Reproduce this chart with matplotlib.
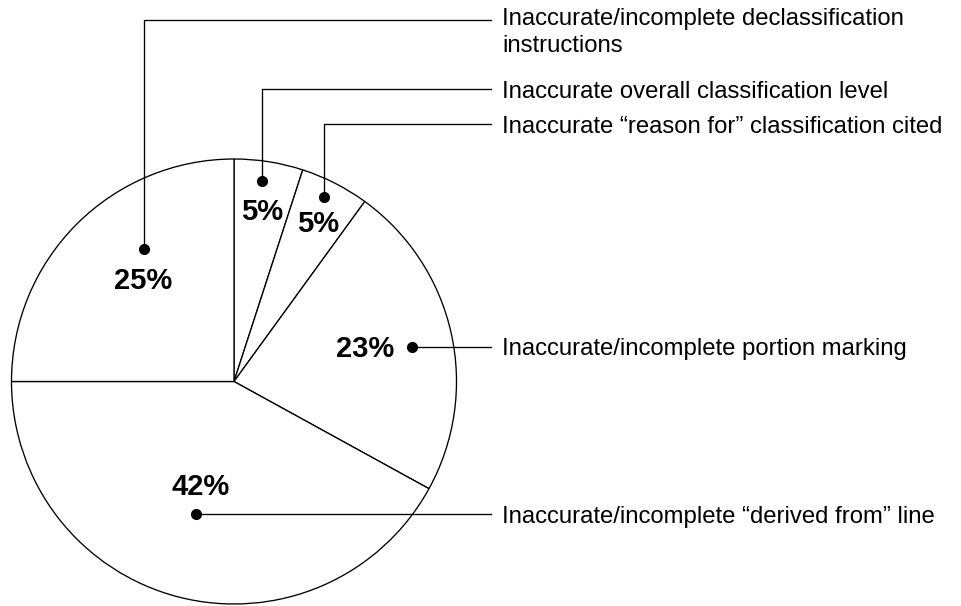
import numpy as np
import matplotlib
matplotlib.use("Agg")
import matplotlib.pyplot as plt

# slice data, clockwise from 12 o'clock
labels = [
    "Inaccurate overall classification level",
    "Inaccurate \u201creason for\u201d classification cited",
    "Inaccurate/incomplete portion marking",
    "Inaccurate/incomplete \u201cderived from\u201d line",
    "Inaccurate/incomplete declassification\ninstructions",
]
shares = [5, 5, 23, 42, 25]

W, H = 962, 606
center = (234, H - 381.5)
radius = 222.5

# leader layout per slice: dot radius fraction, angle shift, label line y (px from top), pct text position
dot_frac = [0.91, 0.925, 0.815, 0.62, 0.72]
dot_shift = [1.0, 1.0, -1.5, -1.5, -11.0]
line_y = [89.3, 124.3, None, None, 20.0]
pct_pos = [(261.7, 211.7), (318, 224), (365, 349), (200.7, 487), (143, 280.7)]

plt.rcParams['font.family'] = ['Liberation Sans', 'DejaVu Sans']

fig = plt.figure(figsize=(W / 100, H / 100), dpi=100)
ax = fig.add_axes([0, 0, 1, 1])

wedges, _ = ax.pie(shares, startangle=90, counterclock=False, center=center,
                   radius=radius, frame=True,
                   wedgeprops=dict(facecolor="white", edgecolor="black", linewidth=0.95))
ax.set_xlim(0, W)
ax.set_ylim(0, H)
ax.set_aspect("auto")
ax.axis("off")

line_end = 491
text_x = 502.5
for i, w in enumerate(wedges):
    mid = np.deg2rad((w.theta1 + w.theta2) / 2 + dot_shift[i])
    r = radius * dot_frac[i]
    dx = center[0] + r * np.cos(mid)
    dy = center[1] + r * np.sin(mid)
    ax.plot(dx, dy, "o", color="black", markersize=7, zorder=5)
    if line_y[i] is not None:
        ly = H - line_y[i]
        ax.plot([dx, dx, line_end], [dy, ly, ly], color="black", lw=0.95, zorder=4)
    else:
        ly = dy
        ax.plot([dx, line_end], [dy, ly], color="black", lw=0.95, zorder=4)
    if "\n" in labels[i]:
        ax.text(text_x, H - 52.5, labels[i], fontsize=17.2, ha="left", va="baseline",
                linespacing=1.3)
    else:
        ax.text(text_x, ly, labels[i], fontsize=17.2, ha="left", va="center_baseline")
    px, py = pct_pos[i]
    ax.text(px, H - py, f"{shares[i]}%", fontsize=21, fontweight="bold",
            ha="center", va="center")

fig.savefig("out.png", dpi=100)
